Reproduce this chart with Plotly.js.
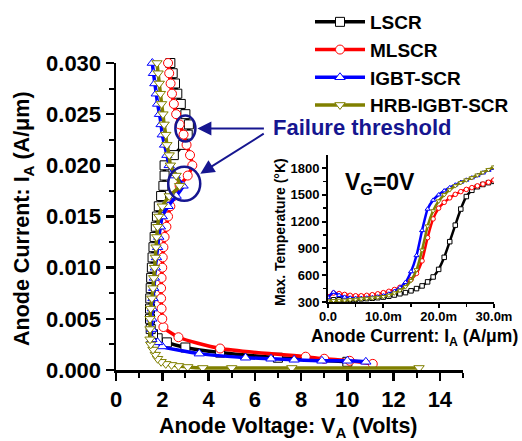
<!DOCTYPE html>
<html>
<head>
<meta charset="utf-8">
<script src="https://cdn.plot.ly/plotly-3.0.1.min.js"></script>
<style>html,body{margin:0;padding:0;background:#fff;}#chart{width:522px;height:441px;}</style>
</head>
<body>
<div id="chart"></div>
<script>
// ---------- Data: main plot (Anode Voltage V vs Anode Current A/um) ----------
const seriesNames = ['LSCR', 'MLSCR', 'IGBT-SCR', 'HRB-IGBT-SCR'];

const lscrV = [10.0, 7.0, 4.5, 3.0, 2.2, 1.8, 1.6, 1.5, 1.47, 1.47, 1.48, 1.5, 1.52, 1.55, 1.58, 1.62, 1.67, 1.72, 1.77, 1.85, 1.95, 2.05, 2.1, 2.1, 2.5, 2.9, 3.1, 3.15, 3.0, 2.8, 2.65, 2.55, 2.45, 2.35];
const lscrI = [0.0008, 0.0012, 0.0017, 0.0022, 0.0027, 0.0031, 0.0035, 0.004, 0.005, 0.006, 0.007, 0.008, 0.009, 0.010, 0.011, 0.012, 0.013, 0.014, 0.015, 0.016, 0.017, 0.018, 0.019, 0.020, 0.021, 0.022, 0.023, 0.024, 0.025, 0.026, 0.027, 0.028, 0.029, 0.030];

const mlscrV = [11.1, 10.1, 9.0, 8.2, 4.5, 2.7, 2.05, 2.0, 1.97, 1.95, 1.95, 1.97, 2.0, 2.02, 2.05, 2.1, 2.18, 2.25, 2.35, 2.5, 2.75, 3.1, 3.3, 3.2, 3.05, 2.92, 2.75, 2.6, 2.5, 2.42, 2.36, 2.3, 2.25];
const mlscrI = [0.0006, 0.0009, 0.0011, 0.0013, 0.0021, 0.0032, 0.0042, 0.005, 0.006, 0.007, 0.008, 0.009, 0.010, 0.011, 0.012, 0.013, 0.014, 0.015, 0.016, 0.017, 0.018, 0.019, 0.020, 0.021, 0.022, 0.023, 0.024, 0.025, 0.026, 0.027, 0.028, 0.029, 0.030];

const igbtV = [10.8, 10.0, 8.9, 7.7, 6.7, 5.6, 3.6, 2.0, 1.8, 1.55, 1.55, 1.55, 1.57, 1.6, 1.63, 1.66, 1.7, 1.75, 1.8, 1.85, 1.92, 2.0, 2.25, 2.6, 2.9, 2.55, 2.3, 2.2, 2.1, 2.0, 1.95, 1.88, 1.8, 1.74, 1.68, 1.62, 1.57];
const igbtI = [0.0008, 0.0009, 0.0009, 0.0010, 0.0011, 0.0012, 0.0016, 0.0023, 0.0027, 0.003, 0.004, 0.005, 0.006, 0.007, 0.008, 0.009, 0.010, 0.011, 0.012, 0.013, 0.014, 0.015, 0.016, 0.017, 0.018, 0.019, 0.020, 0.021, 0.022, 0.023, 0.024, 0.025, 0.026, 0.027, 0.028, 0.029, 0.030];

const hrbV = [13.1, 7.6, 5.0, 3.75, 3.1, 2.7, 2.4, 2.15, 1.95, 1.8, 1.7, 1.6, 1.5, 1.47, 1.47, 1.47, 1.5, 1.55, 1.6, 1.63, 1.67, 1.7, 1.73, 1.76, 1.8, 1.85, 2.0, 2.3, 2.75, 2.6, 2.35, 2.3, 2.2, 2.15, 2.08, 2.03, 1.97, 1.92, 1.87, 1.82, 1.77];
const hrbI = [0.0002, 0.0002, 0.0002, 0.0002, 0.0003, 0.0004, 0.0005, 0.0006, 0.0008, 0.0011, 0.0015, 0.002, 0.0025, 0.003, 0.004, 0.005, 0.006, 0.007, 0.008, 0.009, 0.010, 0.011, 0.012, 0.013, 0.014, 0.015, 0.016, 0.017, 0.018, 0.019, 0.020, 0.021, 0.022, 0.023, 0.024, 0.025, 0.026, 0.027, 0.028, 0.029, 0.030];

// Failure threshold points (V, A/um)
const failureV = [3.0, 2.95];
const failureI = [0.0236, 0.0182];

// ---------- Data: inset (Anode Current vs Max. Temperature) ----------
const insetCurrent = [0, 0.001, 0.002, 0.003, 0.004, 0.005, 0.006, 0.007, 0.008, 0.009, 0.010, 0.011, 0.012, 0.013, 0.014, 0.015, 0.016, 0.017, 0.018, 0.019, 0.020, 0.021, 0.022, 0.023, 0.024, 0.025, 0.026, 0.027, 0.028, 0.029, 0.030];
const lscrT  = [320, 325, 325, 328, 330, 332, 335, 338, 342, 348, 355, 365, 378, 392, 405, 425, 450, 480, 525, 580, 665, 800, 975, 1160, 1340, 1480, 1550, 1590, 1615, 1635, 1650];
const mlscrT = [360, 400, 395, 385, 375, 370, 370, 375, 382, 392, 405, 420, 440, 465, 500, 550, 620, 760, 1020, 1230, 1350, 1415, 1465, 1505, 1535, 1560, 1580, 1600, 1620, 1640, 1665];
const igbtT  = [350, 410, 375, 355, 345, 342, 342, 345, 350, 358, 370, 390, 420, 460, 520, 640, 820, 1100, 1340, 1440, 1500, 1545, 1580, 1610, 1640, 1665, 1690, 1715, 1745, 1775, 1800];
const hrbT   = [310, 315, 318, 320, 325, 330, 335, 340, 345, 352, 360, 375, 400, 430, 470, 540, 660, 880, 1150, 1320, 1430, 1500, 1555, 1600, 1635, 1665, 1690, 1720, 1750, 1780, 1810];

const insetTickVals = [0, 0.01, 0.02, 0.03];
const insetTickText = ['0.0', '10.0m', '20.0m', '30.0m'];

// ---------- Styles ----------
const colors = ['#000000', '#ff0000', '#0000ff', '#808000'];
const symbols = ['square', 'circle', 'triangle-up', 'triangle-down'];
const FONT = 'Liberation Sans, Arial, Helvetica, sans-serif';
const NAVY = '#161690';
const W = 522, H = 441;

const mainX = [lscrV, mlscrV, igbtV, hrbV];
const mainY = [lscrI, mlscrI, igbtI, hrbI];
const insetY = [lscrT, mlscrT, igbtT, hrbT];

const traces = [];
for (let k = 0; k < 4; k++) {
  traces.push({
    type: 'scatter', mode: 'lines+markers', name: seriesNames[k],
    x: mainX[k], y: mainY[k], xaxis: 'x', yaxis: 'y',
    line: {color: colors[k], width: 3.5, shape: 'spline', smoothing: 0.6},
    marker: {symbol: symbols[k], size: 9, color: '#ffffff', line: {color: colors[k], width: 1}},
    cliponaxis: false
  });
}
for (let k = 0; k < 4; k++) {
  traces.push({
    type: 'scatter', mode: 'lines+markers', name: seriesNames[k] + ' T',
    x: insetCurrent, y: insetY[k], xaxis: 'x2', yaxis: 'y2',
    showlegend: false,
    line: {color: colors[k], width: 2.5, shape: 'spline', smoothing: 0.5},
    marker: {symbol: symbols[k], size: 4.5, color: '#ffffff', line: {color: colors[k], width: 1}}
  });
}

const tickFontMain = {family: FONT, size: 22, color: '#000', weight: 'bold'};
const tickFontInset = {family: FONT, size: 13, color: '#000', weight: 'bold'};

const layout = {
  width: W, height: H,
  margin: {l: 0, r: 0, t: 0, b: 0},
  paper_bgcolor: '#ffffff', plot_bgcolor: 'rgba(0,0,0,0)',
  showlegend: true,
  legend: {
    x: 310 / W, y: 1 - 3 / H, xanchor: 'left', yanchor: 'top',
    bgcolor: 'rgba(0,0,0,0)', borderwidth: 0,
    font: {family: FONT, size: 19, color: '#000', weight: 'bold'},
    itemwidth: 50, traceorder: 'normal'
  },
  xaxis: {
    domain: [116 / W, 463 / W], range: [0, 15], anchor: 'y',
    showline: true, linecolor: '#000', linewidth: 2.5, mirror: false,
    showgrid: false, zeroline: false,
    tickmode: 'array', tickvals: [0, 2, 4, 6, 8, 10, 12, 14],
    ticks: 'outside', ticklen: 8, tickwidth: 2.5, tickcolor: '#000',
    tickfont: tickFontMain,
    minor: {tickmode: 'array', tickvals: [1, 3, 5, 7, 9, 11, 13, 15], ticks: 'outside', ticklen: 5, tickwidth: 2, tickcolor: '#000', showgrid: false}
  },
  yaxis: {
    domain: [1 - 370 / H, 1 - 63 / H], range: [0, 0.030], anchor: 'x',
    showline: true, linecolor: '#000', linewidth: 2.5,
    showgrid: false, zeroline: false,
    tickmode: 'linear', tick0: 0, dtick: 0.005, tickformat: '.3f',
    ticks: 'outside', ticklen: 8, tickwidth: 2.5, tickcolor: '#000',
    tickfont: tickFontMain,
    minor: {dtick: 0.0025, ticks: 'outside', ticklen: 5, tickwidth: 2, tickcolor: '#000', showgrid: false}
  },
  xaxis2: {
    domain: [328 / W, 494 / W], range: [0, 0.030], anchor: 'y2',
    showline: true, linecolor: '#000', linewidth: 2,
    showgrid: false, zeroline: false,
    tickmode: 'array', tickvals: insetTickVals, ticktext: insetTickText,
    ticks: 'outside', ticklen: 4, tickwidth: 2, tickcolor: '#000',
    tickfont: tickFontInset, ticklabelstandoff: -3,
    minor: {tickmode: 'array', tickvals: [0.005, 0.015, 0.025], ticks: 'outside', ticklen: 3, tickwidth: 1.5, tickcolor: '#000', showgrid: false}
  },
  yaxis2: {
    domain: [1 - 302 / H, 1 - 155 / H], range: [300, 1945], anchor: 'x2',
    showline: true, linecolor: '#000', linewidth: 2,
    showgrid: false, zeroline: false,
    tickmode: 'linear', tick0: 300, dtick: 300,
    ticks: 'outside', ticklen: 4, tickwidth: 2, tickcolor: '#000',
    tickfont: tickFontInset,
    minor: {dtick: 150, ticks: 'outside', ticklen: 3, tickwidth: 1.5, tickcolor: '#000', showgrid: false}
  },
  shapes: [
    {type: 'circle', xref: 'x', yref: 'y', xsizemode: 'pixel', ysizemode: 'pixel',
     xanchor: failureV[0], yanchor: failureI[0], x0: -10, x1: 10, y0: -13, y1: 13,
     line: {color: NAVY, width: 2.5}},
    {type: 'circle', xref: 'x', yref: 'y', xsizemode: 'pixel', ysizemode: 'pixel',
     xanchor: failureV[1], yanchor: failureI[1], x0: -16, x1: 16, y0: -17, y1: 17,
     line: {color: NAVY, width: 2.5}}
  ],
  annotations: [
    {text: 'Anode Voltage: V<sub>A</sub> (Volts)', xref: 'paper', yref: 'paper',
     x: 288 / W, y: 1 - 427 / H, xanchor: 'center', yanchor: 'middle', showarrow: false,
     font: {family: FONT, size: 21.5, color: '#000', weight: 'bold'}},
    {text: 'Anode Current: I<sub>A</sub> (A/μm)', xref: 'paper', yref: 'paper',
     x: 23 / W, y: 1 - 219 / H, xanchor: 'center', yanchor: 'middle', showarrow: false, textangle: -90,
     font: {family: FONT, size: 21.5, color: '#000', weight: 'bold'}},
    {text: 'Max. Temperature (°K)', xref: 'paper', yref: 'paper',
     x: 280 / W, y: 1 - 232 / H, xanchor: 'center', yanchor: 'middle', showarrow: false, textangle: -90,
     font: {family: FONT, size: 14, color: '#000', weight: 'bold'}},
    {text: 'Anode Current: I<sub>A</sub> (A/μm)', xref: 'paper', yref: 'paper',
     x: 414 / W, y: 1 - 337 / H, xanchor: 'center', yanchor: 'middle', showarrow: false,
     font: {family: FONT, size: 17.5, color: '#000', weight: 'bold'}},
    {text: 'V<sub>G</sub>=0V', xref: 'paper', yref: 'paper',
     x: 380 / W, y: 1 - 183 / H, xanchor: 'center', yanchor: 'middle', showarrow: false,
     font: {family: FONT, size: 23, color: '#000', weight: 'bold'}},
    {text: 'Failure threshold', xref: 'paper', yref: 'paper',
     x: 271 / W, y: 1 - 128 / H, xanchor: 'left', yanchor: 'middle', showarrow: false,
     font: {family: FONT, size: 22, color: NAVY, weight: 'bold'}},
    {text: '', xref: 'x', yref: 'y', x: failureV[0], y: failureI[0], ax: 80, ay: 0,
     showarrow: true, arrowhead: 2, arrowsize: 1.4, arrowwidth: 2, arrowcolor: NAVY, standoff: 12},
    {text: '', xref: 'x', yref: 'y', x: failureV[1], y: failureI[1], ax: 81, ay: -51,
     showarrow: true, arrowhead: 2, arrowsize: 1.4, arrowwidth: 2, arrowcolor: NAVY, standoff: 19}
  ]
};

Plotly.newPlot('chart', traces, layout, {staticPlot: true, displayModeBar: false});
</script>
</body>
</html>
